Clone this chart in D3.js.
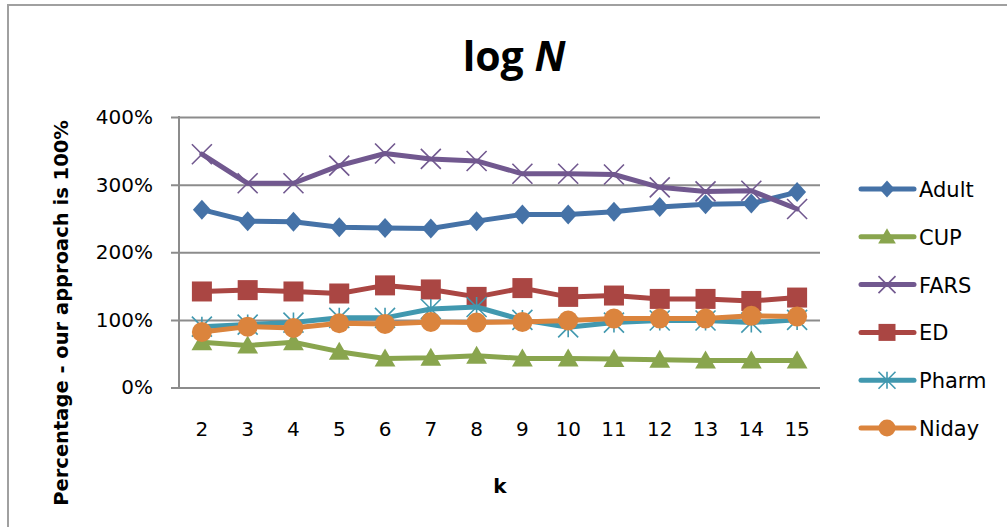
<!DOCTYPE html>
<html>
<head>
<meta charset="utf-8">
<script src="https://cdn.jsdelivr.net/npm/d3@7"></script>
<style>
  html, body { margin: 0; padding: 0; background: #fff; }
  svg { display: block; }
</style>
</head>
<body>
<svg id="chart" width="1007" height="527"></svg>
<script>
// k values along the x axis
const categories = ["2", "3", "4", "5", "6", "7", "8", "9", "10", "11", "12", "13", "14", "15"];

// Percentages relative to our approach (1 = 100%)
const adult  = [2.63, 2.46, 2.45, 2.37, 2.36, 2.35, 2.46, 2.56, 2.56, 2.60, 2.67, 2.71, 2.72, 2.89];
const cup    = [0.67, 0.62, 0.67, 0.53, 0.43, 0.44, 0.47, 0.43, 0.43, 0.42, 0.41, 0.40, 0.40, 0.40];
const fars   = [3.45, 3.02, 3.02, 3.28, 3.46, 3.38, 3.35, 3.16, 3.16, 3.15, 2.96, 2.90, 2.91, 2.64];
const ed     = [1.42, 1.44, 1.42, 1.39, 1.51, 1.45, 1.34, 1.47, 1.34, 1.36, 1.31, 1.31, 1.28, 1.33];
const pharm  = [0.90, 0.93, 0.96, 1.03, 1.03, 1.16, 1.19, 1.00, 0.89, 0.96, 0.99, 0.99, 0.96, 1.00];
const niday  = [0.82, 0.90, 0.88, 0.95, 0.94, 0.97, 0.96, 0.97, 0.99, 1.02, 1.02, 1.02, 1.06, 1.05];

const yTicks = [0, 1, 2, 3, 4];

const series = [
  { name: "Adult", values: adult, color: "#4572A7", marker: "diamond" },
  { name: "CUP",   values: cup,   color: "#89A54E", marker: "triangle" },
  { name: "FARS",  values: fars,  color: "#71588F", marker: "cross" },
  { name: "ED",    values: ed,    color: "#AA4643", marker: "square" },
  { name: "Pharm", values: pharm, color: "#4198AF", marker: "star" },
  { name: "Niday", values: niday, color: "#DB843D", marker: "circle" }
];

const svg = d3.select("#chart");
const font = "'DejaVu Sans', sans-serif";

// chart frame
svg.append("rect")
  .attr("x", 8).attr("y", 5).attr("width", 1010).attr("height", 540)
  .attr("fill", "#fff").attr("stroke", "#a0a0a0").attr("stroke-width", 2);

const plot = { left: 179, right: 820, top: 117, bottom: 387.5 };

const x = d3.scaleBand().domain(categories).range([plot.left, plot.right]);
const y = d3.scaleLinear().domain([0, 4]).range([plot.bottom, plot.top]);
const cx = c => x(c) + x.bandwidth() / 2;

// title
const title = svg.append("text")
  .attr("x", 514).attr("y", 71)
  .attr("text-anchor", "middle")
  .attr("font-family", "'Open Sans', sans-serif")
  .attr("font-weight", "bold")
  .attr("font-size", 41)
  .attr("fill", "#000");
title.append("tspan").text("log ");
title.append("tspan").attr("font-style", "italic").text("N");

// horizontal gridlines and y axis
const yAxis = d3.axisLeft(y)
  .tickValues(yTicks)
  .tickSize(-(plot.right - plot.left))
  .tickPadding(26)
  .tickFormat(d => d3.format(".0%")(d));

const yG = svg.append("g")
  .attr("transform", `translate(${plot.left},0)`)
  .call(yAxis);
yG.select(".domain").remove();
yG.selectAll(".tick line")
  .attr("x1", -8)
  .attr("stroke", "#8c8c8c").attr("stroke-width", 2);
yG.selectAll(".tick text")
  .attr("font-family", font).attr("font-size", 20).attr("fill", "#000");

svg.append("line")
  .attr("x1", plot.left).attr("x2", plot.left)
  .attr("y1", plot.top - 1).attr("y2", plot.bottom + 1)
  .attr("stroke", "#8c8c8c").attr("stroke-width", 2);

// x axis labels
const xAxis = d3.axisBottom(x).tickSize(0).tickPadding(34);
const xG = svg.append("g")
  .attr("transform", `translate(0,${plot.bottom})`)
  .call(xAxis);
xG.select(".domain").remove();
xG.selectAll(".tick text")
  .attr("font-family", font).attr("font-size", 20).attr("fill", "#000");

// axis titles
svg.append("text")
  .attr("x", 500).attr("y", 493)
  .attr("text-anchor", "middle")
  .attr("font-family", font).attr("font-weight", "bold").attr("font-size", 20)
  .text("k");

svg.append("text")
  .attr("transform", "translate(68,313) rotate(-90)")
  .attr("text-anchor", "middle")
  .attr("font-family", font).attr("font-weight", "bold").attr("font-size", 19.5)
  .text("Percentage - our approach is 100%");

// marker drawing
function drawMarker(g, type, color, s) {
  switch (type) {
    case "diamond":
      g.append("path").attr("d", `M0,${-s*0.5}L${s*0.45},0L0,${s*0.5}L${-s*0.45},0Z`).attr("fill", color);
      break;
    case "triangle":
      g.append("path").attr("d", `M0,${-s*0.5}L${s*0.52},${s*0.4}L${-s*0.52},${s*0.4}Z`).attr("fill", color);
      break;
    case "square":
      g.append("rect").attr("x", -s*0.5).attr("y", -s*0.5).attr("width", s).attr("height", s).attr("fill", color);
      break;
    case "circle":
      g.append("circle").attr("r", s*0.5).attr("fill", color);
      break;
    case "cross": {
      const h = s * 0.5;
      g.append("path").attr("d", `M${-h},${-h}L${h},${h}M${-h},${h}L${h},${-h}`)
        .attr("stroke", color).attr("stroke-width", 1.6).attr("fill", "none");
      break;
    }
    case "star": {
      const h = s * 0.5;
      g.append("path").attr("d", `M${-h},${-h}L${h},${h}M${-h},${h}L${h},${-h}M0,${-h}L0,${h}`)
        .attr("stroke", color).attr("stroke-width", 1.6).attr("fill", "none");
      break;
    }
  }
}

const line = d3.line().x(d => cx(d.c)).y(d => y(d.v));

series.forEach(s => {
  const pts = categories.map((c, i) => ({ c, v: s.values[i] }));
  const g = svg.append("g");
  g.append("path")
    .attr("d", line(pts))
    .attr("fill", "none")
    .attr("stroke", s.color)
    .attr("stroke-width", 5)
    .attr("stroke-linejoin", "round")
    .attr("stroke-linecap", "round");
  pts.forEach(p => {
    const m = g.append("g").attr("transform", `translate(${cx(p.c)},${y(p.v)})`);
    drawMarker(m, s.marker, s.color, 20);
  });
});

// legend
const legend = svg.append("g");
series.forEach((s, i) => {
  const ly = 189 + i * 47.8;
  const row = legend.append("g").attr("transform", `translate(0,${ly})`);
  row.append("line")
    .attr("x1", 861).attr("x2", 914)
    .attr("stroke", s.color).attr("stroke-width", 5).attr("stroke-linecap", "round");
  const m = row.append("g").attr("transform", "translate(887,0)");
  drawMarker(m, s.marker, s.color, 17);
  row.append("text")
    .attr("x", 919).attr("y", 8)
    .attr("font-family", font).attr("font-size", 21).attr("fill", "#000")
    .text(s.name);
});
</script>
</body>
</html>
